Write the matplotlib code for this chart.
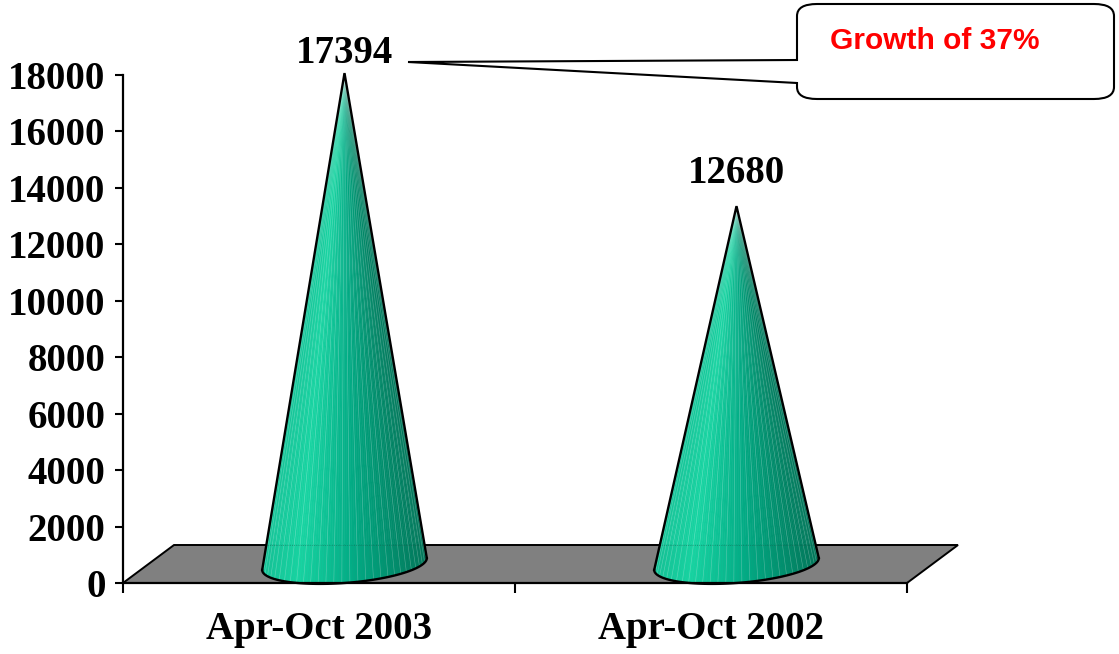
import numpy as np
import matplotlib
matplotlib.use('Agg')
import matplotlib.pyplot as plt
import matplotlib.transforms as mtransforms
from matplotlib.patches import Polygon, PathPatch
from matplotlib.path import Path
from matplotlib.colors import LinearSegmentedColormap

# data
periods = ['Apr-Oct 2003', 'Apr-Oct 2002']
sales = [17394, 12680]
growth_text = 'Growth of 37%'
y_ticks = list(range(0, 18001, 2000))

plt.rcParams['font.family'] = 'Liberation Serif'
plt.rcParams['font.weight'] = 'bold'

W, H = 1119, 654
fig = plt.figure(figsize=(W / 100, H / 100), dpi=100)
ax = fig.add_axes([123 / W, 1 - 583 / H, 784 / W, 508 / H])
ax.set_xlim(0, len(periods))
ax.set_ylim(0, 18000)

# pseudo-3d floor depth, in data units
depth_x = 51 / 392
depth_y = 38 / 508 * 18000

# axes look
for s in ['top', 'right']:
    ax.spines[s].set_visible(False)
for s in ['left', 'bottom']:
    ax.spines[s].set_linewidth(1.6)
    ax.spines[s].set_zorder(5)
ax.set_yticks(y_ticks)
ax.tick_params(axis='y', direction='out', length=5.5, width=1.5, pad=7, labelsize=28)
ax.set_xticks(range(len(periods) + 1))
ax.set_xticklabels([])
ax.tick_params(axis='x', which='major', direction='out', length=7, width=1.5)
ax.set_xticks([i + 0.5 for i in range(len(periods))], minor=True)
ax.set_xticklabels(periods, minor=True)
ax.tick_params(axis='x', which='minor', length=0, pad=20, labelsize=28)

# grey floor
n = len(periods)
floor = Polygon([(0, 0), (n, 0), (n + depth_x, depth_y), (depth_x, depth_y)],
                closed=True, facecolor='#808080', edgecolor='black', lw=1.4,
                zorder=1, clip_on=False)
ax.add_patch(floor)

# cones
shade = LinearSegmentedColormap.from_list(
    'cone', [(0, '#12c497'), (0.22, '#17d4a2'), (0.55, '#02ac85'), (1, '#00775a')])
a = 0.21           # base half width
b = depth_y / 2    # base half height
tilt = 210
label_gaps = [10, 23]

for i, v in enumerate(sales):
    cx = i + 0.5 + depth_x / 2
    cy = depth_y / 2
    top = v + cy
    th = np.linspace(np.pi, 2 * np.pi, 97)
    bx = cx + a * np.cos(th)
    by = cy + b * np.sin(th) + tilt * np.cos(th)
    for j in range(len(th) - 1):
        t = ((bx[j] + bx[j + 1]) / 2 - (cx - a)) / (2 * a)
        c = shade(t)
        ax.add_patch(Polygon([(cx, top), (bx[j], by[j]), (bx[j + 1], by[j + 1])],
                             closed=True, facecolor=c, edgecolor=c, lw=0.4,
                             zorder=2, clip_on=False))
    # light facet seams
    for j in range(2, len(th) - 2, 3):
        ax.plot([bx[j], cx], [by[j], top], color='white', lw=0.45, alpha=0.28,
                zorder=2.5, clip_on=False)
    # faint line where the cone passes the back edge of the floor
    frac = (top - depth_y) / (top - cy)
    ax.plot([cx - a * frac, cx + a * frac], [depth_y, depth_y], ls=':', lw=0.6,
            color='#1d5f50', alpha=0.6, zorder=3, clip_on=False)
    ax.plot([bx[0], cx, bx[-1]], [by[0], top, by[-1]], color='black', lw=1.7,
            zorder=4, clip_on=False, solid_joinstyle='miter')
    ax.plot(bx, by, color='black', lw=1.7, zorder=4, clip_on=False)
    ax.annotate(f'{v}', xy=(cx, top), xytext=(0, label_gaps[i]),
                textcoords='offset pixels', ha='center', va='baseline',
                fontsize=28, fontweight='bold', annotation_clip=False)

# callout box (pixel coordinates, y measured from the top)
px = mtransforms.Affine2D().scale(1 / W, -1 / H).translate(0, 1) + fig.transFigure
L, R, T, B = 797, 1114, 4, 99
rx, ry = 20, 12
verts = [(408, 62), (L, 60), (L, T + ry), (L, T), (L + rx, T), (R - rx, T),
         (R, T), (R, T + ry), (R, B - ry), (R, B), (R - rx, B), (L + rx, B),
         (L, B), (L, B - ry), (L, 83), (408, 62)]
codes = [Path.MOVETO, Path.LINETO, Path.LINETO, Path.CURVE3, Path.CURVE3,
         Path.LINETO, Path.CURVE3, Path.CURVE3, Path.LINETO, Path.CURVE3,
         Path.CURVE3, Path.LINETO, Path.CURVE3, Path.CURVE3, Path.LINETO,
         Path.CLOSEPOLY]
callout = PathPatch(Path(verts, codes), facecolor='white', edgecolor='black',
                    lw=1.5, transform=px, zorder=10)
fig.add_artist(callout)
fig.text(830, 49, growth_text, transform=px, ha='left', va='baseline',
         color='#ff0000', fontsize=21.5, fontweight='bold',
         family='Liberation Sans', zorder=11)

fig.savefig('out.png', dpi=100)
